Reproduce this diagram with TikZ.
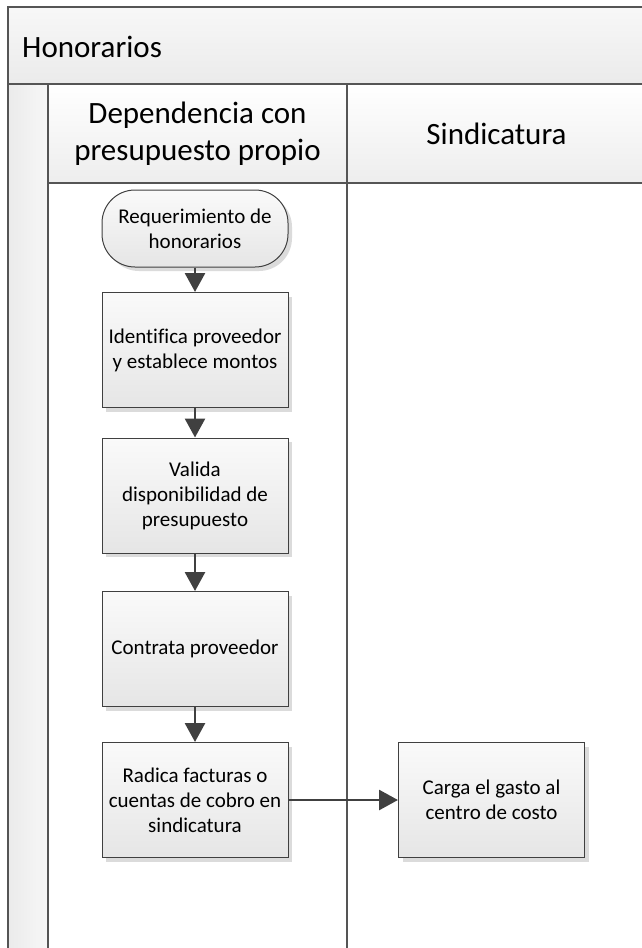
\documentclass[tikz,border=0pt]{standalone}
\usepackage{fontspec}
\setmainfont{Carlito}[Ligatures=CommonOff]
\usetikzlibrary{calc,shadows,arrows.meta}
\definecolor{linegray}{HTML}{404040}
\definecolor{framegray}{HTML}{555555}

\tikzset{
  proc/.style={draw=linegray, line width=1pt, top color=white!98!black, bottom color=black!10,
    minimum width=186, minimum height=115, align=center, inner sep=2pt,
    font=\fontsize{21}{25}\selectfont,
    drop shadow={shadow xshift=4pt, shadow yshift=-4pt, fill=black!14, opacity=1}},
  term/.style={proc, rounded corners=33, minimum height=77},
  lanehead/.style={draw=framegray, line width=1.3pt, top color=white, bottom color=black!7,
    minimum width=299, minimum height=99, align=center, inner sep=0,
    font=\fontsize{31}{37}\selectfont},
  flow/.style={draw=linegray, line width=2.8pt, -{Triangle[width=20pt,length=19pt]}},
  frame/.style={draw=framegray, line width=1.3pt}
}

\begin{document}
\begin{tikzpicture}[x=1pt,y=-1pt]
\useasboundingbox (0,0) rectangle (641,948);

\fill[top color=white!97!black, bottom color=black!8] (8,7) rectangle (650,84);
\fill[left color=black!8, right color=white!97!black] (8,84) rectangle (48,960);
\draw[frame] (650,7) -- (8,7) -- (8,960);
\draw[frame] (8,84) -- (650,84);
\draw[frame] (48,84) -- (48,960);
\draw[frame] (347,84) -- (347,960);
\node[anchor=west, inner sep=0, font=\fontsize{31}{37}\selectfont] (title) at (22,47) {Honorarios};

\node[lanehead] (hdep) at (197.5,133.5) {Dependencia con\\presupuesto propio};
\node[lanehead] (hsin) at (496.5,133.5) {Sindicatura};

\node[term] (start) at (195,228.5) {Requerimiento de\\honorarios};
\node[proc] (ident) at (195,350) {Identifica proveedor\\y establece montos};
\node[proc] (valida) at (195,495.5) {Valida\\disponibilidad de\\presupuesto};
\node[proc] (contrata) at (195,649) {Contrata proveedor};
\node[proc] (radica) at (195,800) {Radica facturas o\\cuentas de cobro en\\sindicatura};
\node[proc] (carga) at (491.5,800) {Carga el gasto al\\centro de costo};

\draw[flow] (start) -- (ident);
\draw[flow] (ident) -- (valida);
\draw[flow] (valida) -- (contrata);
\draw[flow] (contrata) -- (radica);
\draw[flow] (radica) -- (carga);

\end{tikzpicture}
\end{document}
